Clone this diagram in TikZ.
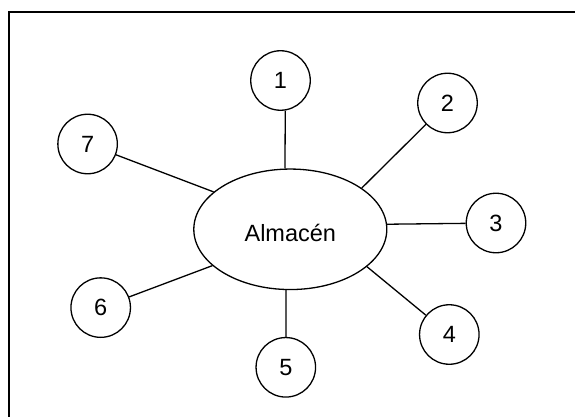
\documentclass[tikz,border=0pt]{standalone}
\usepackage{fontspec}
\setmainfont{Liberation Sans}
\usetikzlibrary{shapes.geometric}
\begin{document}
\begin{tikzpicture}[x=1pt,y=-1pt,
  numcircle/.style={draw, circle, line width=1.3pt, minimum size=59.5pt, inner sep=0pt, font=\fontsize{23.5}{28}\selectfont},
  hub/.style={draw, ellipse, line width=1.3pt, minimum width=193pt, minimum height=120.5pt, inner sep=0pt, text height=24.8pt, text depth=0pt, font=\fontsize{23.5}{28}\selectfont},
  link/.style={line width=1.3pt},
  frame/.style={line width=1.7pt}]
\useasboundingbox (0,0) rectangle (575,417);
\clip (0,0) rectangle (575,417);
\draw[frame] (9,12) rectangle (600,440);
\node[hub] (alm) at (290.3,229.3) {Almacén};
\node[numcircle] (c1) at (280.5,80.5) {1};
\node[numcircle] (c2) at (447.5,103) {2};
\node[numcircle] (c3) at (496,223) {3};
\node[numcircle] (c4) at (449.3,334.5) {4};
\node[numcircle] (c5) at (285.8,367.3) {5};
\node[numcircle] (c6) at (100.7,307.6) {6};
\node[numcircle] (c7) at (87.6,144) {7};
\draw[link] (c1.-81) -- (alm.95);
\draw[link] (c2) -- (alm.30.8);
\draw[link] (c3) -- (alm.3);
\draw[link] (c4) -- (alm.-26.3);
\draw[link] (c5) -- (alm.-94.4);
\draw[link] (c6) -- (alm.205.5);
\draw[link] (c7) -- (alm.154);
\end{tikzpicture}
\end{document}
